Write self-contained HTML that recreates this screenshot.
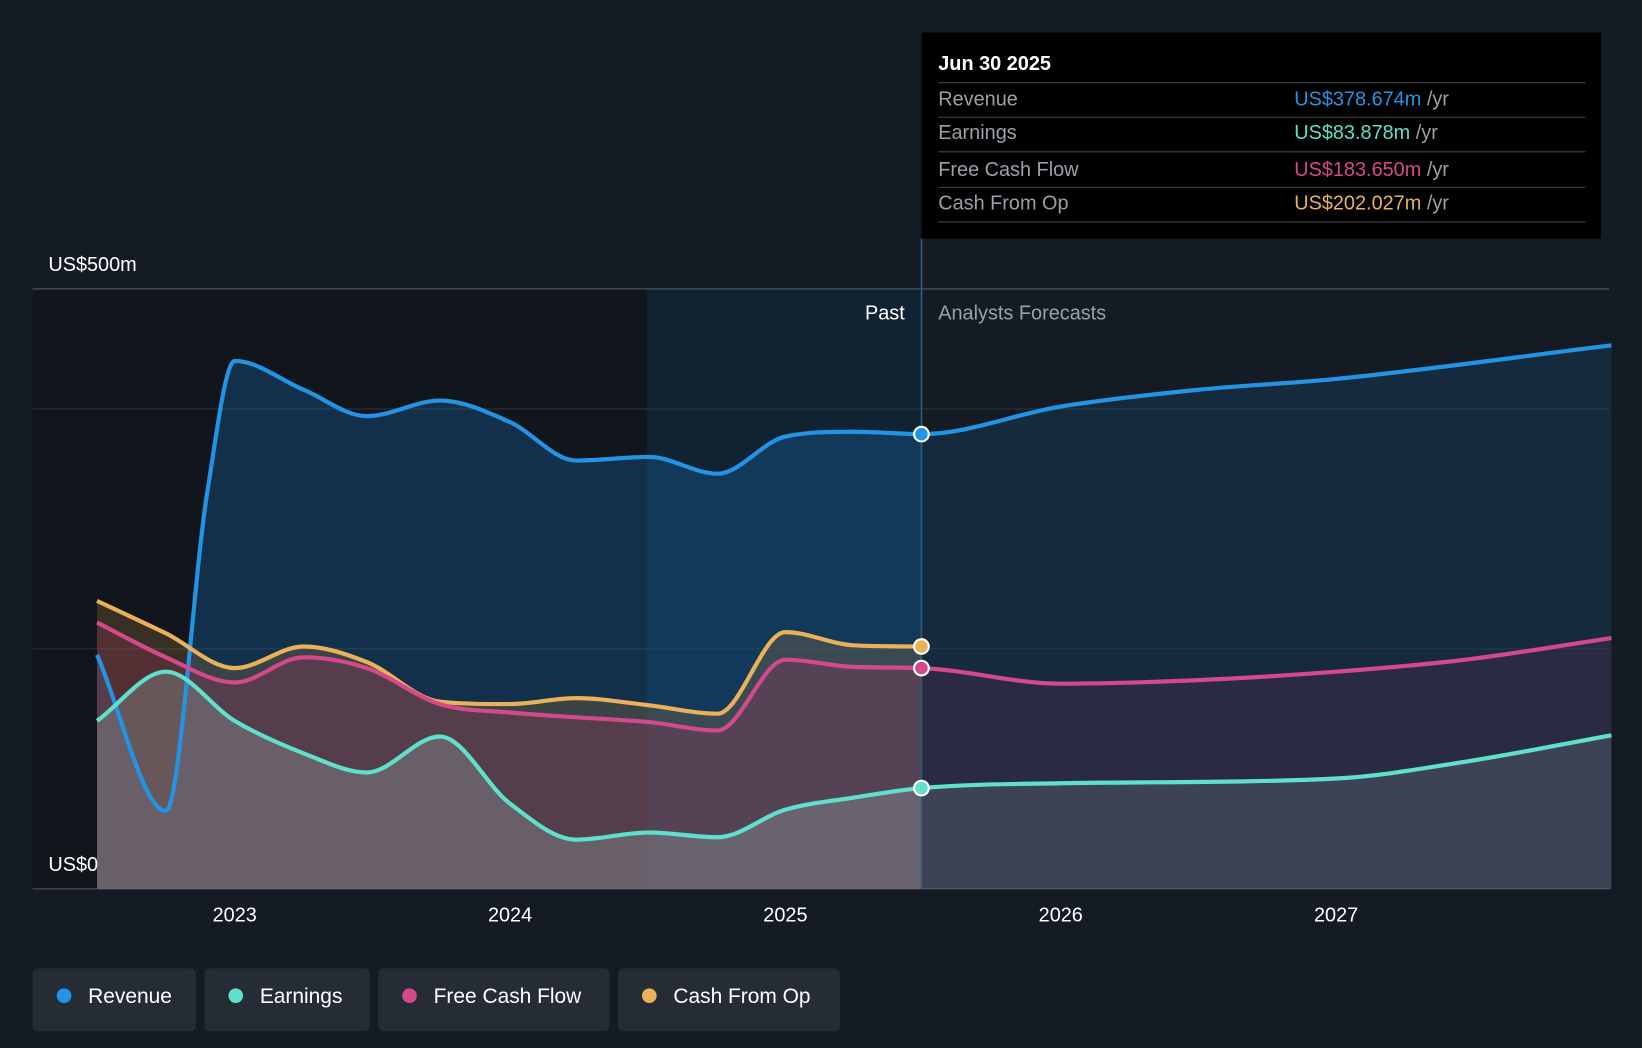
<!DOCTYPE html>
<html><head><meta charset="utf-8"><style>
html,body{margin:0;padding:0;background:#151b24;}
svg{display:block;font-family:"Liberation Sans",sans-serif;}
</style></head><body>
<svg width="1642" height="1048" viewBox="0 0 1568 1001">
<defs>
<clipPath id="cPast"><rect x="0" y="0" width="880" height="1001"/></clipPath>
<clipPath id="cFut"><rect x="880" y="0" width="700" height="1001"/></clipPath>
</defs>
<rect width="1568" height="1001" fill="#151b24"/>
<rect x="31" y="276" width="587" height="573" fill="#11151c"/>
<rect x="618" y="276" width="262" height="573" fill="#112233"/>
<g id="grid"></g>
<g id="areas"></g>
<g id="lines"></g>
<line x1="880" y1="228" x2="880" y2="849" stroke="#2d5a80" stroke-width="1.5"/>
<text x="864" y="305" fill="#fff" font-size="19" text-anchor="end">Past</text>
<text x="896" y="305" fill="#9aa0a8" font-size="19">Analysts Forecasts</text>
<text x="46" y="259" fill="#fff" font-size="19">US$500m</text>
<text x="46" y="832" fill="#fff" font-size="19">US$0</text>
<g id="xt"></g>
<g id="dots"></g>
<g>
<rect x="880" y="31" width="649" height="197" fill="#000"/>
<text x="896" y="67" fill="#fff" font-size="19" font-weight="bold">Jun 30 2025</text>
<line x1="896" y1="79" x2="1514" y2="79" stroke="#444"/>
<text x="896" y="101" fill="#9aa0a8" font-size="19">Revenue</text><text x="1236" y="101" font-size="19" fill="#2394e4">US$378.674m <tspan fill="#9aa0a8">/yr</tspan></text>
<line x1="896" y1="112" x2="1514" y2="112" stroke="#444"/>
<text x="896" y="133" fill="#9aa0a8" font-size="19">Earnings</text><text x="1236" y="133" font-size="19" fill="#5ee0cc">US$83.878m <tspan fill="#9aa0a8">/yr</tspan></text>
<line x1="896" y1="145" x2="1514" y2="145" stroke="#444"/>
<text x="896" y="168" fill="#9aa0a8" font-size="19">Free Cash Flow</text><text x="1236" y="168" font-size="19" fill="#d4498a">US$183.650m <tspan fill="#9aa0a8">/yr</tspan></text>
<line x1="896" y1="179" x2="1514" y2="179" stroke="#444"/>
<text x="896" y="200" fill="#9aa0a8" font-size="19">Cash From Op</text><text x="1236" y="200" font-size="19" fill="#e9b15a">US$202.027m <tspan fill="#9aa0a8">/yr</tspan></text>
<line x1="896" y1="212" x2="1514" y2="212" stroke="#444"/>
</g>
<g>
<g><rect x="31" y="925" width="156" height="60" rx="5" fill="#262c36"/><circle cx="61" cy="951" r="7" fill="#2394e4"/><text x="84" y="958" fill="#fff" font-size="20">Revenue</text></g>
<g><rect x="195" y="925" width="158" height="60" rx="5" fill="#262c36"/><circle cx="225" cy="951" r="7" fill="#5ee0cc"/><text x="248" y="958" fill="#fff" font-size="20">Earnings</text></g>
<g><rect x="361" y="925" width="221" height="60" rx="5" fill="#262c36"/><circle cx="391" cy="951" r="7" fill="#d4498a"/><text x="414" y="958" fill="#fff" font-size="20">Free Cash Flow</text></g>
<g><rect x="590" y="925" width="212" height="60" rx="5" fill="#262c36"/><circle cx="620" cy="951" r="7" fill="#e9b15a"/><text x="643" y="958" fill="#fff" font-size="20">Cash From Op</text></g>
</g>
</svg>
<script>
const revYears=[2022.5,2022.75,2022.9,2023,2023.25,2023.48,2023.745,2024,2024.24,2024.505,2024.753,2025,2025.247,2025.494,2026,2026.5,2027,2028];
const revVals=[195,65,330,440,416,394,407,389,357,360,346,377,381,379,402,416,425,453];
const earnYears=[2022.5,2022.75,2023,2023.25,2023.48,2023.745,2024,2024.24,2024.505,2024.753,2025,2025.247,2025.494,2026,2027,2027.47,2028];
const earnVals=[140,181,140,113,97,127,71,41,47,43,66,76,84,88,92,106,128];
const fcfYears=[2022.5,2022.75,2023,2023.25,2023.48,2023.745,2024,2024.24,2024.505,2024.753,2025,2025.247,2025.494,2026,2026.5,2027,2027.47,2028];
const fcfVals=[222,193,172,193,184,154,147,143,139,132,191,185,184,171,174,181,191,209];
const cfoYears=[2022.5,2022.75,2023,2023.25,2023.48,2023.745,2024,2024.24,2024.505,2024.753,2025,2025.247,2025.494];
const cfoVals=[240,213,184,202,189,156,154,159,153,146,214,203,202];
const xTicks=[2023,2024,2025,2026,2027];
const NS="http://www.w3.org/2000/svg";
const X=y=>224+(y-2023)*263, Y=v=>849-v*1.146;
function mk(t,a,p){const e=document.createElementNS(NS,t);for(const k in a)e.setAttribute(k,a[k]);document.getElementById(p).appendChild(e);return e;}
function path(xs,vs){const p=xs.map((x,i)=>[X(x),Y(vs[i])]);const n=p.length;
const s=[],m=[];for(let i=0;i<n-1;i++)s.push((p[i+1][1]-p[i][1])/(p[i+1][0]-p[i][0]));
m[0]=s[0];m[n-1]=s[n-2];for(let i=1;i<n-1;i++){m[i]=(s[i-1]*s[i]<=0)?0:(s[i-1]+s[i])/2;}
for(let i=0;i<n-1;i++){if(s[i]===0){m[i]=m[i+1]=0;continue;}const a=m[i]/s[i],b=m[i+1]/s[i],h=a*a+b*b;if(h>9){const t=3/Math.sqrt(h);m[i]=t*a*s[i];m[i+1]=t*b*s[i];}}
let d=`M${p[0][0]},${p[0][1]}`;
for(let i=0;i<n-1;i++){const dx=(p[i+1][0]-p[i][0])/3;
d+=` C${p[i][0]+dx},${p[i][1]+m[i]*dx} ${p[i+1][0]-dx},${p[i+1][1]-m[i+1]*dx} ${p[i+1][0]},${p[i+1][1]}`;}return d;}
[200,400,500].forEach(v=>{const g=mk('line',{x1:31,x2:1537,y1:Y(v),y2:Y(v),stroke:v==500?'#555b63':'#2a3039','stroke-width':1},'grid');

});
const base=mk('line',{x1:31,x2:1537,y1:849,y2:849,stroke:'#555b63'},'grid');


const series=[
 ['revenue',revYears,revVals,'#2394e4','rgba(27,111,181,',0.3,0.18],
 ['cfo',cfoYears,cfoVals,'#e9b15a','rgba(160,120,60,',0.28,0.15],
 ['fcf',fcfYears,fcfVals,'#d4498a','rgba(150,50,90,',0.3,0.16],
 ['earnings',earnYears,earnVals,'#5ee0cc','rgba(140,160,160,',0.35,0.2]];
series.forEach(([n,xs,vs,c,f,ap,af])=>{const d=path(xs,vs);
const ad=d+` L${X(xs[xs.length-1])},849 L${X(xs[0])},849 Z`;
const a=mk('path',{d:ad,fill:f+ap+')','clip-path':'url(#cPast)'},'areas');


const a2=mk('path',{d:ad,fill:f+af+')','clip-path':'url(#cFut)'},'areas');


const l=mk('path',{d:d,fill:'none',stroke:c,'stroke-width':4},'lines');


const i=xs.indexOf(2025.494);
const dot=mk('circle',{cx:X(xs[i]),cy:Y(vs[i]),r:7,fill:c,stroke:'#fff','stroke-width':2},'dots');

});
xTicks.forEach(t=>{const e=mk('text',{x:X(t),y:880,fill:'#fff','font-size':19,'text-anchor':'middle'},'xt');e.textContent=t;

});
</script>
</body></html>
